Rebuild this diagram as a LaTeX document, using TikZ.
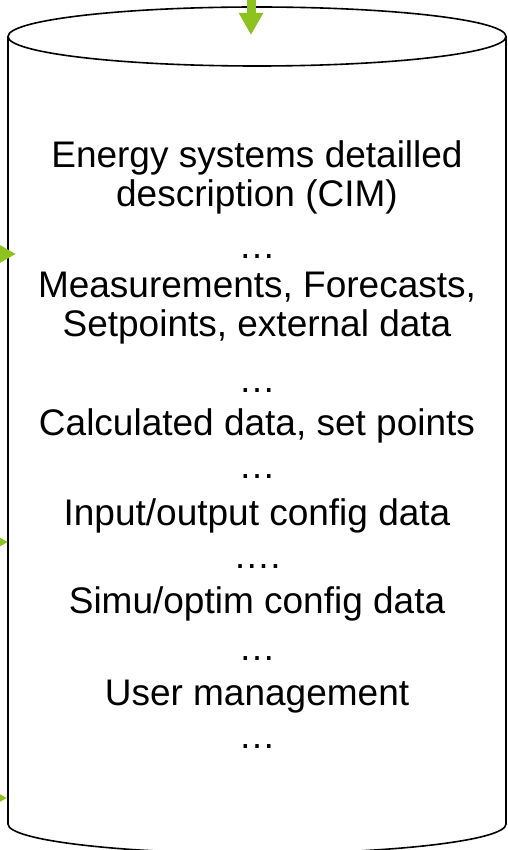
\documentclass[tikz,border=0pt]{standalone}
\usepackage{fontspec}
\setmainfont{Liberation Sans}
\usetikzlibrary{arrows.meta}
\definecolor{agreen}{RGB}{141,194,31}
\begin{document}
\begin{tikzpicture}[x=1pt,y=-1pt,
  txt/.style={anchor=base, inner sep=0pt, font=\fontsize{37}{44}\selectfont},
  garrow/.style={agreen, line width=9pt, -{Triangle[width=23pt,length=22pt]}},
  cyl/.style={line width=1.6pt, black}]
\useasboundingbox (0,0) rectangle (507,850);
\clip (0,0) rectangle (507,850);
% cylinder
\draw[cyl] (8,36.5) -- (8,824) arc[start angle=180, end angle=0, x radius=249, y radius=29.5] -- (506,36.5);
\draw[cyl, fill=white] (257,36.5) ellipse [x radius=249, y radius=29.5];
% text
\node[txt] (t1)  at (257,168) {Energy systems detailled};
\node[txt] (t2)  at (257,207) {description (CIM)};
\node[txt] (t3)  at (257,258) {…};
\node[txt] (t4)  at (257,297) {Measurements, Forecasts,};
\node[txt] (t5)  at (257,336) {Setpoints, external data};
\node[txt] (t6)  at (257,392) {…};
\node[txt] (t7)  at (257,435) {Calculated data, set points};
\node[txt] (t8)  at (257,478) {…};
\node[txt] (t9)  at (257,525) {Input/output config data};
\node[txt] (t10) at (257,568) {….};
\node[txt] (t11) at (257,613) {Simu/optim config data};
\node[txt] (t12) at (257,660) {…};
\node[txt] (t13) at (257,705) {User management};
\node[txt] (t14) at (257,748) {…};
% arrows
\coordinate (topsrc) at (251,-30);
\coordinate (toptip) at (251,35);
\coordinate (l1src) at (-40,254);
\coordinate (l1tip) at (16,254);
\coordinate (l2src) at (-40,542);
\coordinate (l2tip) at (8,542);
\coordinate (l3src) at (-40,798);
\coordinate (l3tip) at (7,798);
\draw[garrow] (topsrc) -- (toptip);
\draw[garrow] (l1src) -- (l1tip);
\draw[garrow] (l2src) -- (l2tip);
\draw[garrow] (l3src) -- (l3tip);
\end{tikzpicture}
\end{document}
